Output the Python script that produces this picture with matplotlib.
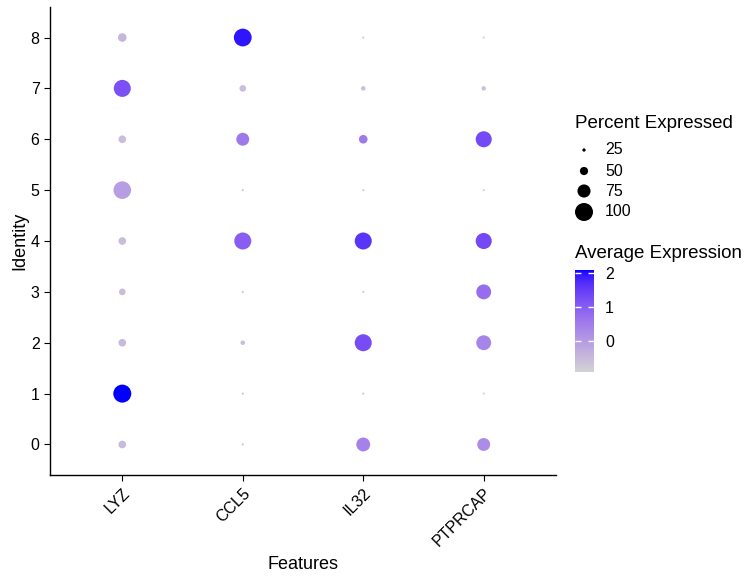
import numpy as np
import matplotlib
matplotlib.use("Agg")
import matplotlib.pyplot as plt
from matplotlib.colors import ListedColormap

plt.rcParams["font.family"] = ["Liberation Sans", "DejaVu Sans"]

features = ["LYZ", "CCL5", "IL32", "PTPRCAP"]
identities = [0, 1, 2, 3, 4, 5, 6, 7, 8]

# percent expressed, per feature, identity 0..8
pct_lyz = [47, 100, 47, 42, 47, 98, 47, 95, 52]
pct_ccl5 = [15, 13, 31, 11, 95, 11, 74, 42, 99]
pct_il32 = [79, 11, 95, 11, 95, 13, 52, 31, 15]
pct_ptprcap = [74, 11, 84, 84, 90, 11, 90, 31, 13]

# scaled average expression
exp_lyz = [-0.50, 2.08, -0.50, -0.55, -0.55, -0.05, -0.55, 1.20, -0.45]
exp_ccl5 = [-0.75, -0.80, -0.55, -0.80, 1.00, -0.80, 0.55, -0.55, 1.95]
exp_il32 = [0.40, -0.85, 1.25, -0.85, 1.60, -0.85, 0.55, -0.60, -0.85]
exp_ptprcap = [0.25, -0.92, 0.35, 0.75, 1.30, -0.92, 1.30, -0.65, -0.90]

size_breaks = [25, 50, 75, 100]
color_ticks = [0, 1, 2]


def srgb_to_lab(rgb):
    rgb = np.asarray(rgb, dtype=float)
    lin = np.where(rgb <= 0.04045, rgb / 12.92, ((rgb + 0.055) / 1.055) ** 2.4)
    m = np.array([[0.4124, 0.3576, 0.1805],
                  [0.2126, 0.7152, 0.0722],
                  [0.0193, 0.1192, 0.9505]])
    xyz = m @ lin / np.array([0.95047, 1.0, 1.08883])
    f = np.where(xyz > 216 / 24389, np.cbrt(xyz), (24389 / 27 * xyz + 16) / 116)
    return np.array([116 * f[1] - 16, 500 * (f[0] - f[1]), 200 * (f[1] - f[2])])


def lab_to_srgb(lab):
    L, a, b = lab
    fy = (L + 16) / 116
    fx = fy + a / 500
    fz = fy - b / 200
    f = np.array([fx, fy, fz])
    xyz = np.where(f ** 3 > 216 / 24389, f ** 3, (116 * f - 16) / (24389 / 27))
    xyz = xyz * np.array([0.95047, 1.0, 1.08883])
    m = np.array([[3.2406, -1.5372, -0.4986],
                  [-0.9689, 1.8758, 0.0415],
                  [0.0557, -0.2040, 1.0570]])
    lin = np.clip(m @ xyz, 0, 1)
    rgb = np.where(lin <= 0.0031308, 12.92 * lin, 1.055 * lin ** (1 / 2.4) - 0.055)
    return np.clip(rgb, 0, 1)


# ggplot-style gradient: lightgrey -> blue, interpolated in Lab
lab_lo = srgb_to_lab([211 / 255, 211 / 255, 211 / 255])
lab_hi = srgb_to_lab([0, 0, 1])
cmap = ListedColormap([lab_to_srgb(lab_lo + t * (lab_hi - lab_lo)) for t in np.linspace(0, 1, 256)])

pct = np.array([pct_lyz, pct_ccl5, pct_il32, pct_ptprcap], dtype=float)
avg = np.array([exp_lyz, exp_ccl5, exp_il32, exp_ptprcap], dtype=float)

PMIN, PMAX, DMAX = 8.0, 100.0, 18.0 * 0.72  # max dot diameter in points


def dot_area(p):
    d = DMAX * (np.asarray(p, dtype=float) - PMIN) / (PMAX - PMIN)
    return np.clip(d, 1.6, None) ** 2


fig = plt.figure(figsize=(7.47, 5.82), dpi=100)
ax = fig.add_axes([50 / 747, 1 - 475 / 582, 506 / 747, 468 / 582])

xs, ys, ss, cs = [], [], [], []
for i, f in enumerate(features):
    for j, ident in enumerate(identities):
        xs.append(i)
        ys.append(ident)
        ss.append(pct[i, j])
        cs.append(avg[i, j])

sc = ax.scatter(xs, ys, s=dot_area(ss), c=cs, cmap=cmap,
                vmin=avg.min(), vmax=avg.max(), linewidths=0)

ax.set_xlim(-0.6, len(features) - 0.4)
ax.set_ylim(-0.6, len(identities) - 0.4)
ax.set_xticks(range(len(features)))
ax.set_xticklabels(features, rotation=45, ha="right", va="top", rotation_mode="anchor")
ax.set_yticks(identities)
ax.set_yticklabels([str(v) for v in identities])
ax.tick_params(labelsize=11.5, length=4, width=0.8, color="black", labelcolor="black")
ax.spines["top"].set_visible(False)
ax.spines["right"].set_visible(False)
ax.spines["left"].set_linewidth(1)
ax.spines["bottom"].set_linewidth(1)
ax.set_xlabel("Features", fontsize=13, labelpad=5)
ax.set_ylabel("Identity", fontsize=13, va="center")
ax.yaxis.set_label_coords(-30 / 506, 0.5)

# size legend
fig.text(575 / 747, 1 - 124 / 582, "Percent Expressed", fontsize=13.5, va="center", ha="left")
lax = fig.add_axes([0, 0, 1, 1], facecolor="none")
lax.set_xlim(0, 747)
lax.set_ylim(582, 0)
lax.axis("off")
leg_y = [150, 171, 191, 212]
lax.scatter([584] * len(size_breaks), leg_y, s=dot_area(size_breaks), c="black", linewidths=0)
for yy, b in zip(leg_y, size_breaks):
    lax.text(605, yy, str(b), fontsize=11.5, va="center", ha="left")

# colour legend
fig.text(575 / 747, 1 - 254 / 582, "Average Expression", fontsize=13.5, va="center", ha="left")
cax = fig.add_axes([575 / 747, 1 - 372 / 582, 19 / 747, 102 / 582])
cb = fig.colorbar(sc, cax=cax, ticks=color_ticks)
cb.outline.set_visible(False)
cax.tick_params(direction="in", color="white", length=4, width=1, left=True, right=True,
                labelsize=11.5, pad=8)

fig.savefig("out.png", dpi=100)
